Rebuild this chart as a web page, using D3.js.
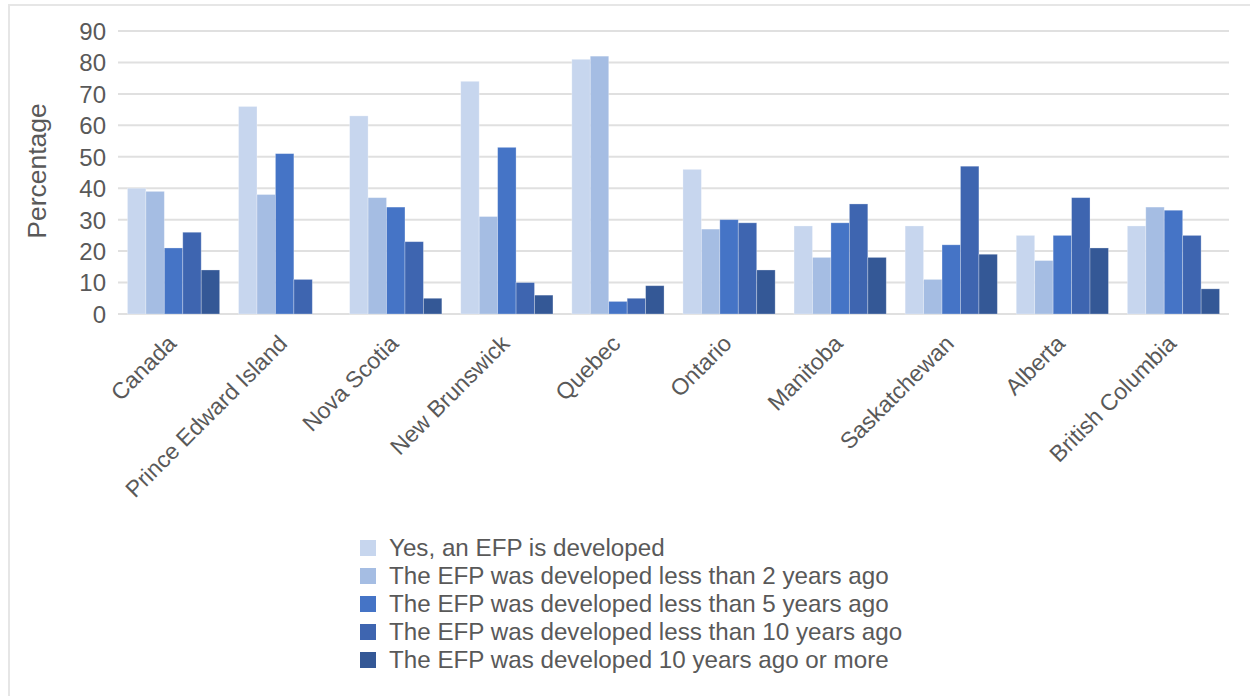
<!DOCTYPE html>
<html>
<head>
<meta charset="utf-8">
<script src="https://cdn.jsdelivr.net/npm/d3@7"></script>
<style>
  body { margin: 0; background: #fff; }
  svg { display: block; font-family: "Liberation Sans", Arial, sans-serif; }
</style>
</head>
<body>
<svg width="1250" height="696"></svg>
<script>
// data
var provinces = ["Canada", "Prince Edward Island", "Nova Scotia", "New Brunswick", "Quebec",
                 "Ontario", "Manitoba", "Saskatchewan", "Alberta", "British Columbia"];
var seriesNames = ["Yes, an EFP is developed",
                   "The EFP was developed less than 2 years ago",
                   "The EFP was developed less than 5 years ago",
                   "The EFP was developed less than 10 years ago",
                   "The EFP was developed 10 years ago or more"];
var yesDeveloped = [40, 66, 63, 74, 81, 46, 28, 28, 25, 28];
var lessThan2    = [39, 38, 37, 31, 82, 27, 18, 11, 17, 34];
var lessThan5    = [21, 51, 34, 53, 4, 30, 29, 22, 25, 33];
var lessThan10   = [26, 11, 23, 10, 5, 29, 35, 47, 37, 25];
var tenOrMore    = [14, null, 5, 6, 9, 14, 18, 19, 21, 8];
var yTicks = [0, 10, 20, 30, 40, 50, 60, 70, 80, 90];

var colours = ["#c7d6ee", "#a5bde3", "#4574c6", "#3e65b0", "#345896"];
var allSeries = [yesDeveloped, lessThan2, lessThan5, lessThan10, tenOrMore];

var svg = d3.select("svg"),
    width = +svg.attr("width"),
    height = +svg.attr("height");

var margin = {left: 118, right: 21, top: 31, bottom: 382};
var plotW = width - margin.left - margin.right,
    plotH = height - margin.top - margin.bottom;

// frame round the chart
svg.append("rect")
    .attr("x", 9).attr("y", 5)
    .attr("width", width).attr("height", height)
    .attr("fill", "none")
    .attr("stroke", "#e6e6e6")
    .attr("stroke-width", 2);

var g = svg.append("g")
    .attr("transform", "translate(" + margin.left + "," + margin.top + ")");

var x0 = d3.scaleBand()
    .domain(provinces)
    .range([0, plotW])
    .paddingInner(0.17)
    .paddingOuter(0.085);

var x1 = d3.scaleBand()
    .domain(d3.range(seriesNames.length))
    .range([0, x0.bandwidth()]);

var y = d3.scaleLinear()
    .domain([0, 90])
    .range([plotH, 0]);

// gridlines
g.append("g")
    .attr("class", "grid")
    .selectAll("line")
    .data(yTicks)
    .enter().append("line")
    .attr("x1", 0).attr("x2", plotW)
    .attr("y1", function(d) { return y(d); })
    .attr("y2", function(d) { return y(d); })
    .attr("stroke", "#e0e0e0")
    .attr("stroke-width", 2);

// y axis labels
var yAxis = d3.axisLeft(y).tickValues(yTicks).tickSize(0).tickPadding(12);
var yg = g.append("g").call(yAxis);
yg.select(".domain").remove();
yg.selectAll("text")
    .style("font-size", "24px")
    .attr("fill", "#595959")
    .attr("dy", "0.35em");

// bars
var rows = provinces.map(function(p, i) {
    return {name: p, vals: allSeries.map(function(s) { return s[i]; })};
});

var groups = g.append("g")
    .selectAll("g")
    .data(rows)
    .enter().append("g")
    .attr("transform", function(d) { return "translate(" + x0(d.name) + ",0)"; });

groups.selectAll("rect")
    .data(function(d) {
        return d.vals.map(function(v, k) { return {k: k, v: v}; })
                     .filter(function(e) { return e.v != null; });
    })
    .enter().append("rect")
    .attr("x", function(d) { return x1(d.k); })
    .attr("y", function(d) { return y(d.v); })
    .attr("width", x1.bandwidth())
    .attr("height", function(d) { return plotH - y(d.v); })
    .attr("fill", function(d) { return colours[d.k]; })
    .attr("stroke", "#ffffff")
    .attr("stroke-opacity", 0.35)
    .attr("stroke-width", 0.8);

// x labels, rotated
var xAxis = d3.axisBottom(x0).tickSize(0).tickPadding(0);
var xg = g.append("g")
    .attr("transform", "translate(0," + plotH + ")")
    .call(xAxis);
xg.select(".domain").remove();
xg.selectAll("text")
    .style("font-size", "23px")
    .attr("fill", "#595959")
    .attr("text-anchor", "end")
    .attr("dy", null)
    .attr("y", null)
    .attr("transform", "translate(4,31) rotate(-45)");

// y axis title
svg.append("text")
    .attr("transform", "translate(46,171) rotate(-90)")
    .attr("text-anchor", "middle")
    .style("font-size", "26.5px")
    .attr("fill", "#595959")
    .text("Percentage");

// legend
var legend = svg.append("g")
    .attr("transform", "translate(360,537)");

var item = legend.selectAll("g")
    .data(seriesNames)
    .enter().append("g")
    .attr("transform", function(d, i) { return "translate(0," + (i * 28) + ")"; });

item.append("rect")
    .attr("width", 16).attr("height", 16)
    .attr("y", 3)
    .attr("fill", function(d, i) { return colours[i]; });

item.append("text")
    .attr("x", 29)
    .attr("y", 11)
    .attr("dy", "0.35em")
    .style("font-size", "24.2px")
    .attr("fill", "#595959")
    .text(function(d) { return d; });
</script>
</body>
</html>
